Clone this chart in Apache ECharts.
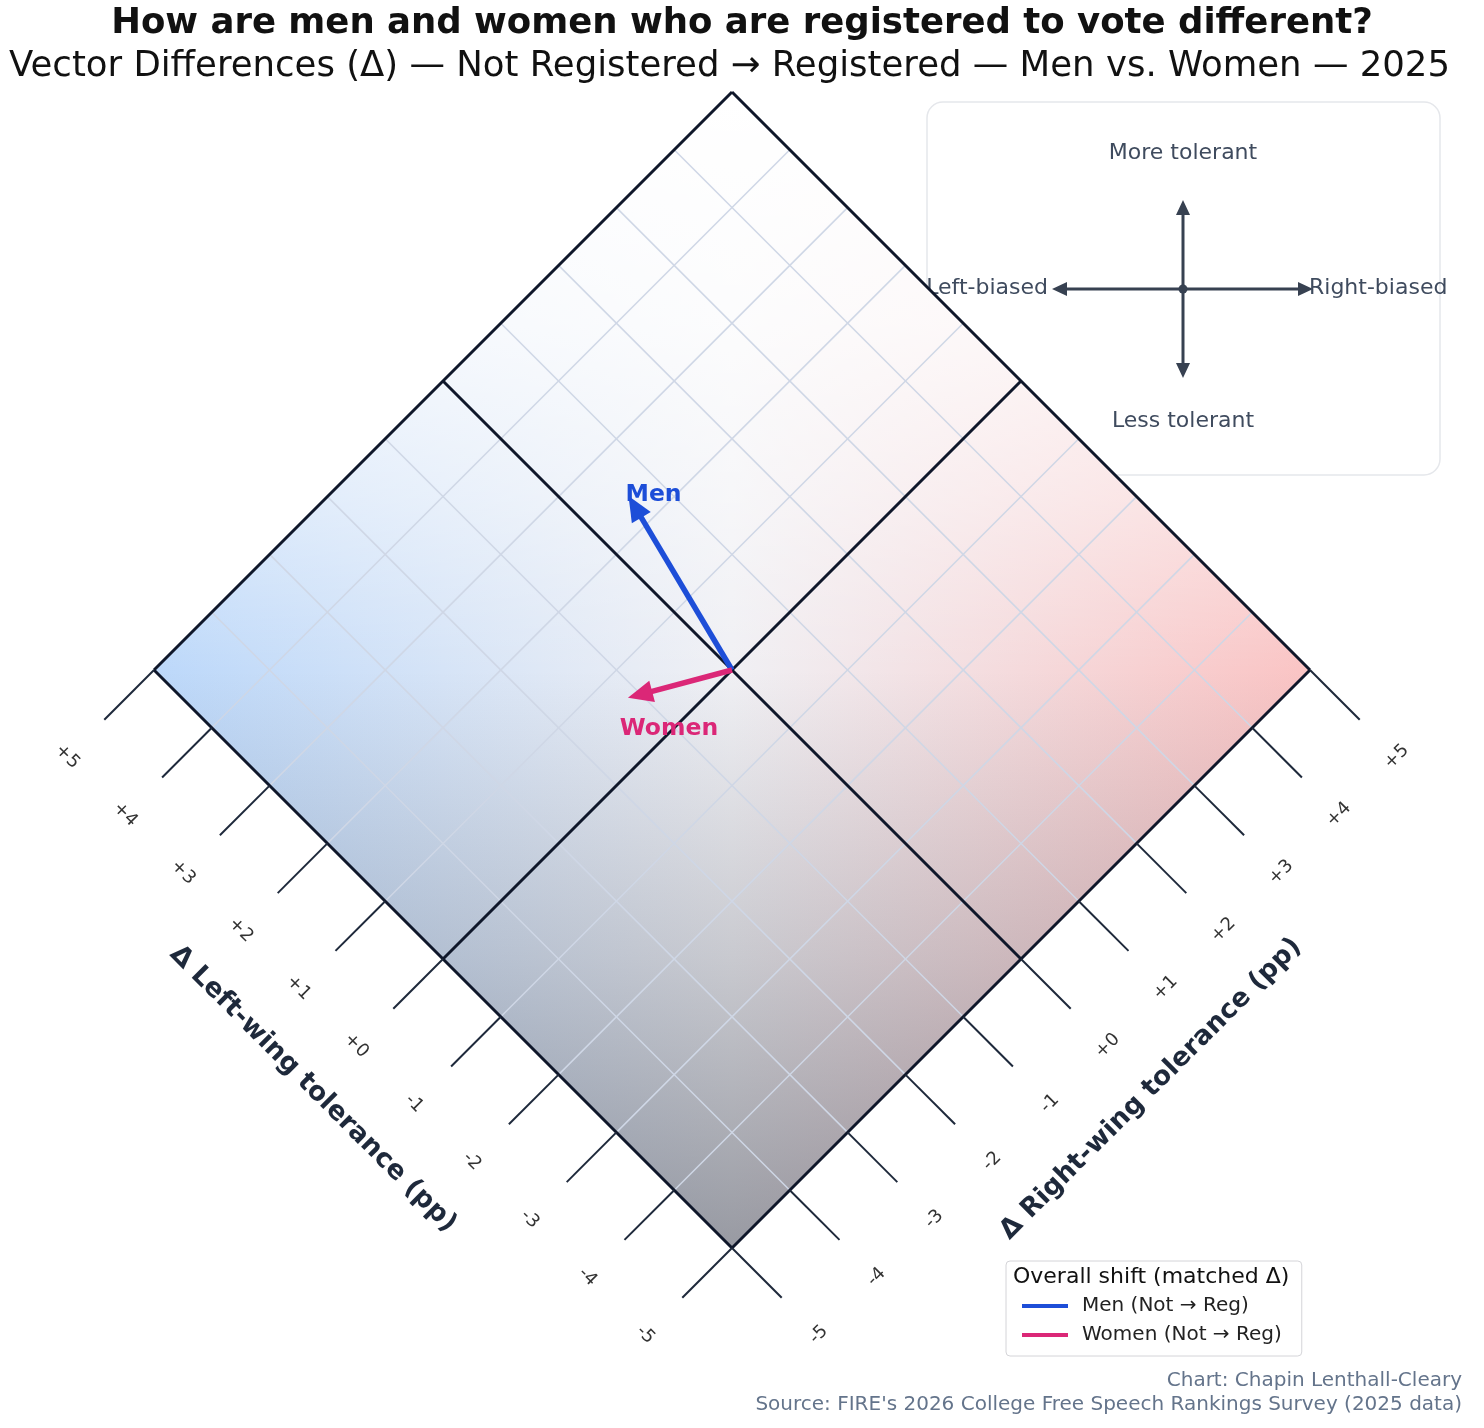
<!DOCTYPE html>
<html>
<head>
<meta charset="utf-8">
<script src="https://cdn.jsdelivr.net/npm/echarts@6/dist/echarts.min.js"></script>
<style>
  html, body { margin: 0; padding: 0; background: #fff; }
  #chart { width: 1484px; height: 1428px; }
</style>
</head>
<body>
<div id="chart"></div>
<script>
// axis ticks (same on both axes) and their labels
var tickValues = [5, 4, 3, 2, 1, 0, -1, -2, -3, -4, -5];
var tickLabels = ['+5', '+4', '+3', '+2', '+1', '+0', '-1', '-2', '-3', '-4', '-5'];
var gridValues = [-4, -3, -2, -1, 1, 2, 3, 4];
var axisLimit = 5;

// vectors: change in left-wing / right-wing tolerance (pp)
var groups = ['Men', 'Women'];
var legendNames = ['Men (Not → Reg)', 'Women (Not → Reg)'];
var leftDelta = [2.40, 0.66];
var rightDelta = [0.61, -1.14];

var colors = { Men: '#1d4ed8', Women: '#db2777' };
var labelOffset = { Men: [-3, -1, 'left'], Women: [41, 31, 'center'] };
var FONT = 'DejaVu Sans';

// rotate (left, right) into the plotting plane
function toXY(L, R) {
    return [R - L, R + L];
}

var chart = echarts.init(document.getElementById('chart'));

// background diamond
var corners = [[axisLimit, axisLimit], [-axisLimit, axisLimit], [-axisLimit, -axisLimit], [axisLimit, -axisLimit]];

// grid lines: [L1, R1, L2, R2, kind]
var lines = [];
gridValues.forEach(function (v) {
    lines.push([v, -axisLimit, v, axisLimit, 0]);
    lines.push([-axisLimit, v, axisLimit, v, 0]);
});
[-axisLimit, 0, axisLimit].forEach(function (v) {
    lines.push([v, -axisLimit, v, axisLimit, 1]);
    lines.push([-axisLimit, v, axisLimit, v, 1]);
});
tickValues.forEach(function (v) {
    lines.push([v, -axisLimit, v, -axisLimit - 0.86, 2]);
    lines.push([-axisLimit, v, -axisLimit - 0.86, v, 2]);
});

// tick labels: [L, R, index, side]
var labels = [];
tickValues.forEach(function (v, i) {
    labels.push([v, -axisLimit - 1.5, i, 0]);
    labels.push([-axisLimit - 1.5, v, i, 1]);
});

var lineStyles = [
    { stroke: '#cfd7e6', lineWidth: 1.5 },
    { stroke: '#0f172a', lineWidth: 3 },
    { stroke: '#1e293b', lineWidth: 2 }
];

function arrowSeries(k) {
    var g = groups[k];
    return {
        name: legendNames[k],
        type: 'custom',
        z: 5,
        itemStyle: { color: colors[g] },
        data: [[leftDelta[k], rightDelta[k]]],
        renderItem: function (params, api) {
            var p0 = api.coord(toXY(0, 0));
            var p1 = api.coord(toXY(api.value(0), api.value(1)));
            var dx = p1[0] - p0[0], dy = p1[1] - p0[1];
            var len = Math.sqrt(dx * dx + dy * dy);
            var ux = dx / len, uy = dy / len;
            var head = 25, hw = 11;
            var bx = p1[0] - ux * head, by = p1[1] - uy * head;
            var off = labelOffset[g];
            return {
                type: 'group',
                children: [
                    { type: 'line', shape: { x1: p0[0], y1: p0[1], x2: bx + ux * 2, y2: by + uy * 2 },
                      style: { stroke: colors[g], lineWidth: 5.5 } },
                    { type: 'polygon',
                      shape: { points: [p1, [bx - uy * hw, by + ux * hw], [bx + uy * hw, by - ux * hw]] },
                      style: { fill: colors[g] } },
                    { type: 'text', x: p1[0] + off[0], y: p1[1] + off[1], z2: 10,
                      style: { text: g, fill: colors[g], font: 'bold 23.5px ' + FONT,
                               align: off[2], verticalAlign: 'middle' } }
                ]
            };
        }
    };
}

chart.setOption({
    animation: false,
    title: [{
        text: 'How are men and women who are registered to vote different?',
        left: 'center', top: 1,
        textStyle: { fontFamily: FONT, fontSize: 35.5, fontWeight: 'bold', color: '#111' }
    }, {
        text: 'Vector Differences (Δ) — Not Registered → Registered — Men vs. Women — 2025',
        left: 4, top: 44,
        textStyle: { fontFamily: FONT, fontSize: 35.5, fontWeight: 'normal', color: '#111' }
    }],
    grid: { left: 38.4, top: 92, width: 1387.2, height: 1271.6 },
    xAxis: { type: 'value', min: -12, max: 12, show: false },
    yAxis: { type: 'value', min: -12, max: 10, show: false },
    legend: {
        data: legendNames,
        orient: 'vertical',
        left: 1006, top: 1261,
        icon: 'rect', itemWidth: 46, itemHeight: 4, itemGap: 9,
        padding: [35, 20, 11, 16],
        backgroundColor: '#fff', borderColor: '#d4d4d8', borderWidth: 1, borderRadius: 4,
        selectedMode: false,
        textStyle: { fontFamily: FONT, fontSize: 20, color: '#222', padding: [0, 0, 0, 9] }
    },
    series: [{
        type: 'custom',
        silent: true,
        z: 1,
        data: [0],
        renderItem: function (params, api) {
            var pts = corners.map(function (c) { return api.coord(toXY(c[0], c[1])); });
            return {
                type: 'group',
                children: [{
                    type: 'polygon', shape: { points: pts },
                    style: { fill: new echarts.graphic.LinearGradient(0, 0, 1, 0, [
                        { offset: 0, color: '#bcd8fa' },
                        { offset: 0.5, color: '#f0f0f4' },
                        { offset: 1, color: '#fac4c4' }
                    ]) }
                }, {
                    type: 'polygon', shape: { points: pts },
                    style: { fill: new echarts.graphic.LinearGradient(0, 0, 0, 1, [
                        { offset: 0, color: 'rgba(255,255,255,1)' },
                        { offset: 0.2, color: 'rgba(255,255,255,0.8)' },
                        { offset: 0.35, color: 'rgba(255,255,255,0.45)' },
                        { offset: 0.5, color: 'rgba(255,255,255,0)' },
                        { offset: 0.5, color: 'rgba(20,25,40,0)' },
                        { offset: 0.75, color: 'rgba(20,25,40,0.18)' },
                        { offset: 1, color: 'rgba(20,25,40,0.4)' }
                    ]) }
                }]
            };
        }
    }, {
        type: 'custom',
        silent: true,
        z: 2,
        data: lines,
        renderItem: function (params, api) {
            var a = api.coord(toXY(api.value(0), api.value(1)));
            var b = api.coord(toXY(api.value(2), api.value(3)));
            var s = lineStyles[api.value(4)];
            return {
                type: 'line', z2: api.value(4),
                shape: { x1: a[0], y1: a[1], x2: b[0], y2: b[1] },
                style: { stroke: s.stroke, lineWidth: s.lineWidth, lineCap: 'butt' }
            };
        }
    }, {
        type: 'custom',
        silent: true,
        z: 3,
        data: labels,
        renderItem: function (params, api) {
            var p = api.coord(toXY(api.value(0), api.value(1)));
            var side = api.value(3);
            return {
                type: 'text', x: p[0], y: p[1],
                rotation: side === 0 ? -Math.PI / 4 : Math.PI / 4,
                style: { text: tickLabels[api.value(2)], fill: '#333', font: '18px ' + FONT,
                         align: 'center', verticalAlign: 'middle' }
            };
        }
    }, {
        type: 'custom',
        silent: true,
        z: 3,
        data: [[0, -7.25, 0], [-7.25, 0, 1]],
        renderItem: function (params, api) {
            var p = api.coord(toXY(api.value(0), api.value(1)));
            var side = api.value(2);
            return {
                type: 'text', x: p[0], y: p[1],
                rotation: side === 0 ? -Math.PI / 4 : Math.PI / 4,
                style: { text: side === 0 ? 'Δ Left-wing tolerance (pp)' : 'Δ Right-wing tolerance (pp)',
                         fill: '#1e293b', font: 'bold 26.5px ' + FONT,
                         align: 'center', verticalAlign: 'middle' }
            };
        }
    }, arrowSeries(0), arrowSeries(1)],
    graphic: [{
        type: 'group', z: 100,
        children: [
            { type: 'rect', shape: { x: 927, y: 102, width: 513, height: 373, r: 16 },
              style: { fill: 'rgba(255,255,255,0.9)', stroke: '#e5e7eb', lineWidth: 1.5 } },
            { type: 'line', shape: { x1: 1183, y1: 212, x2: 1183, y2: 366 },
              style: { stroke: '#374151', lineWidth: 3 } },
            { type: 'line', shape: { x1: 1064, y1: 289, x2: 1301, y2: 289 },
              style: { stroke: '#374151', lineWidth: 3 } },
            { type: 'polygon', shape: { points: [[1183, 200], [1176, 215], [1190, 215]] }, style: { fill: '#374151' } },
            { type: 'polygon', shape: { points: [[1183, 378], [1176, 363], [1190, 363]] }, style: { fill: '#374151' } },
            { type: 'polygon', shape: { points: [[1052, 289], [1067, 282], [1067, 296]] }, style: { fill: '#374151' } },
            { type: 'polygon', shape: { points: [[1313, 289], [1298, 282], [1298, 296]] }, style: { fill: '#374151' } },
            { type: 'circle', shape: { cx: 1183, cy: 289, r: 4.5 }, style: { fill: '#374151' } },
            { type: 'text', x: 1183, y: 153,
              style: { text: 'More tolerant', font: '22px ' + FONT, fill: '#3f4b5e', align: 'center', verticalAlign: 'middle' } },
            { type: 'text', x: 1183, y: 421,
              style: { text: 'Less tolerant', font: '22px ' + FONT, fill: '#3f4b5e', align: 'center', verticalAlign: 'middle' } },
            { type: 'text', x: 1048, y: 288,
              style: { text: 'Left-biased', font: '22px ' + FONT, fill: '#3f4b5e', align: 'right', verticalAlign: 'middle' } },
            { type: 'text', x: 1309, y: 288,
              style: { text: 'Right-biased', font: '22px ' + FONT, fill: '#3f4b5e', align: 'left', verticalAlign: 'middle' } }
        ]
    }, {
        type: 'text', left: 1013, top: 1266, z: 101,
        style: { text: 'Overall shift (matched Δ)', font: '22px ' + FONT, fill: '#111' }
    }, {
        type: 'text', right: 22, top: 1371,
        style: { text: 'Chart: Chapin Lenthall-Cleary', font: '20px ' + FONT, fill: '#64748b', align: 'right' }
    }, {
        type: 'text', right: 22, top: 1395,
        style: { text: "Source: FIRE's 2026 College Free Speech Rankings Survey (2025 data)", font: '20px ' + FONT, fill: '#64748b', align: 'right' }
    }]
});
</script>
</body>
</html>
